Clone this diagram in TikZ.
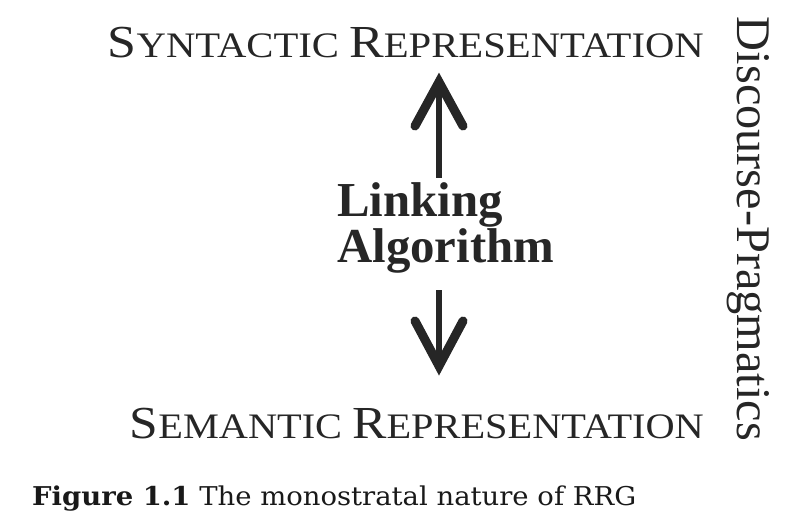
\documentclass[tikz,border=0pt]{standalone}
\usepackage{fontspec}
\usepackage{graphicx}
\setmainfont{Liberation Serif}
\newfontfamily\capfont{DejaVu Serif}
\newcommand{\BigC}[1]{{\fontsize{46}{46}\selectfont #1}}
\newcommand{\SmC}[1]{{\fontsize{36}{36}\selectfont #1}}
\begin{document}
\begin{tikzpicture}[x=1bp,y=-1bp,
  reptext/.style={inner sep=0pt, anchor=base east, text=black!85},
  linktext/.style={inner sep=0pt, anchor=base west, font=\bfseries\fontsize{49}{49}\selectfont, text=black!85},
  shaft/.style={line width=6bp, draw=black!85},
  head/.style={line width=9bp, draw=black!85, line join=miter, line cap=round}]
\useasboundingbox (0,0) rectangle (794,530);
\node[reptext] (syn) at (704,58) {\resizebox{596bp}{\height}{\BigC{S}\SmC{YNTACTIC}\SmC{\ }\BigC{R}\SmC{EPRESENTATION}}};
\node[reptext] (sem) at (704,438) {\resizebox{574bp}{\height}{\BigC{S}\SmC{EMANTIC}\SmC{\ }\BigC{R}\SmC{EPRESENTATION}}};
\node[linktext] (link) at (337,217) {Linking};
\node[linktext] (algo) at (337,263) {Algorithm};
\node[inner sep=0pt, anchor=base, rotate=-90, text=black!85, font=\fontsize{48.5}{48.5}\selectfont] (dp) at (737,229) {Discourse-Pragmatics};
\node[inner sep=0pt, anchor=base west, text=black!90] (cap) at (32,505) {\resizebox{604bp}{\height}{\capfont\fontsize{26}{26}\selectfont\textbf{Figure 1.1} The monostratal nature of RRG}};
\coordinate (upbot) at (439,178);
\coordinate (uptip) at (439,82);
\coordinate (upl) at (415,126);
\coordinate (upr) at (463,126);
\coordinate (dntop) at (439,290);
\coordinate (dntip) at (439,366);
\coordinate (dnl) at (415,321);
\coordinate (dnr) at (463,321);
\draw[shaft] (upbot) -- (uptip);
\draw[head] (upl) -- (uptip) -- (upr);
\draw[shaft] (dntop) -- (dntip);
\draw[head] (dnl) -- (dntip) -- (dnr);
\end{tikzpicture}
\end{document}
